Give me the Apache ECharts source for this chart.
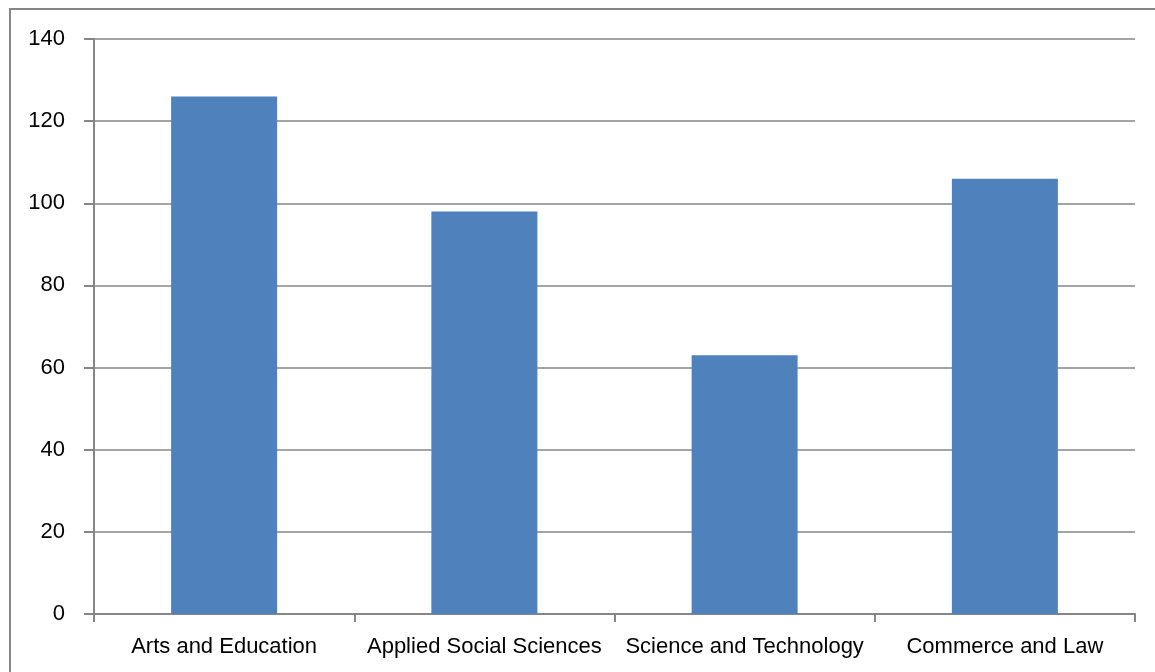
<!DOCTYPE html>
<html>
<head>
<meta charset="utf-8">
<script src="https://cdn.jsdelivr.net/npm/echarts@6/dist/echarts.min.js"></script>
<style>
html,body{margin:0;padding:0;background:#fff;}
#chart{width:1155px;height:672px;}
</style>
</head>
<body>
<div id="chart"></div>
<script>
const categories = ["Arts and Education", "Applied Social Sciences", "Science and Technology", "Commerce and Law"];
const values = [126, 98, 63, 106];
const yTicks = [0, 20, 40, 60, 80, 100, 120, 140];

const chart = echarts.init(document.getElementById('chart'));
const gray = '#868686';
chart.setOption({
  animation: false,
  backgroundColor: '#ffffff',
  graphic: [{
    type: 'rect',
    shape: { x: 10, y: 9, width: 1300, height: 800 },
    style: { fill: 'none', stroke: gray, lineWidth: 2 },
    silent: true
  }],
  grid: { left: 94, right: 20, top: 39, bottom: 58 },
  xAxis: {
    type: 'category',
    data: categories,
    axisLine: { show: true, lineStyle: { color: gray, width: 2 } },
    axisTick: { show: true, length: 8, lineStyle: { color: gray, width: 2 } },
    axisLabel: { interval: 0, color: '#000', fontSize: 22, fontFamily: 'Liberation Sans', margin: 22 }
  },
  yAxis: {
    type: 'value',
    min: yTicks[0],
    max: yTicks[yTicks.length - 1],
    interval: 20,
    axisLine: { show: true, lineStyle: { color: gray, width: 2 } },
    axisTick: { show: true, length: 10, lineStyle: { color: gray, width: 2 } },
    axisLabel: { color: '#000', fontSize: 22, fontFamily: 'Liberation Sans', margin: 29 },
    splitLine: { show: true, lineStyle: { color: gray, width: 1.5 } }
  },
  series: [{
    type: 'bar',
    data: values,
    barWidth: 106,
    itemStyle: { color: '#4F81BD' }
  }]
});
</script>
</body>
</html>
